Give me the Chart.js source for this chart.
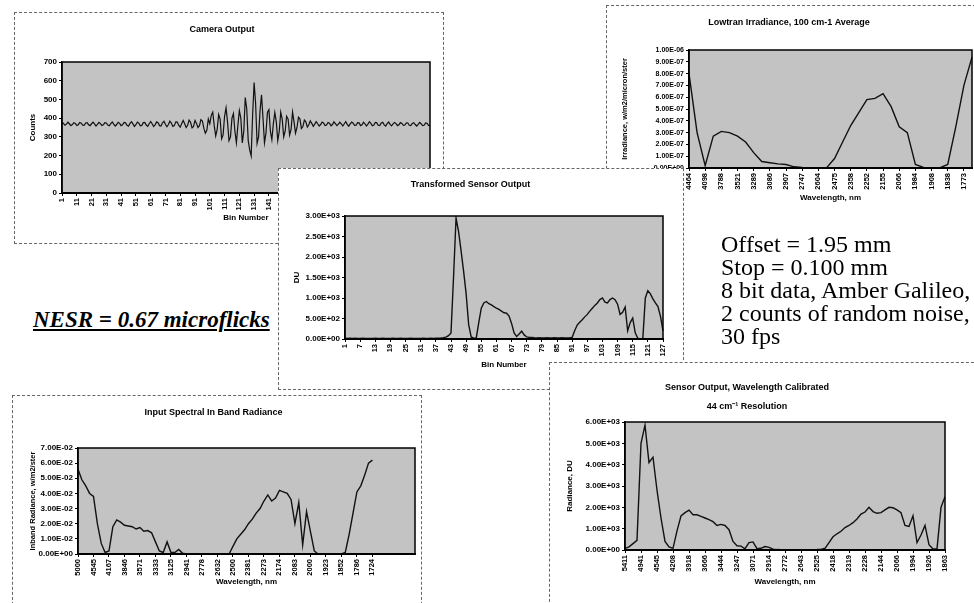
<!DOCTYPE html>
<html lang="en">
<head>
<meta charset="UTF-8">
<title>Interferometer sensor results</title>
<script src="https://cdn.jsdelivr.net/npm/chart.js"></script>
<style>
    body { margin: 0; background: #fff; width: 974px; height: 603px; overflow: hidden; position: relative; }
    .panel { position: absolute; background: #fff; outline: 1px dashed #666; outline-offset: -1px; }
    .panel canvas { position: absolute; left: 0; top: 0; }
    .note { position: absolute; color: #000; font-family: 'Liberation Serif', 'Times New Roman', serif; white-space: nowrap; }
</style>
</head>
<body>

<div class="panel" style="left:14px; top:12px; width:430px; height:232px;"><canvas id="camChart" width="430" height="232"></canvas></div>
<div class="panel" style="left:606px; top:5px; width:380px; height:365px;"><canvas id="lowChart" width="380" height="365"></canvas></div>
<div class="panel" style="left:278px; top:168px; width:406px; height:222px;"><canvas id="trnChart" width="406" height="222"></canvas></div>
<div class="panel" style="left:12px; top:395px; width:410px; height:215px;"><canvas id="inbChart" width="410" height="215"></canvas></div>
<div class="panel" style="left:549px; top:362px; width:440px; height:250px;"><canvas id="senChart" width="440" height="250"></canvas></div>

<div class="note" style="left:33px; top:306px; font-size:23px; line-height:27px; font-weight:bold; font-style:italic; text-decoration:underline;">NESR = 0.67 microflicks</div>
<div class="note" style="left:721px; top:233px; font-size:24px; line-height:23px;">Offset = 1.95 mm<br>Stop = 0.100 mm<br>8 bit data, Amber Galileo,<br>2 counts of random noise,<br>30 fps</div>

<script>
    //data - camera output, counts per bin
    const camValues = [
        378, 372, 362, 368, 378, 370, 360, 366, 376, 372,
        361, 365, 377, 373, 363, 362, 374, 376, 365, 360,
        370, 379, 369, 358, 367, 377, 371, 361, 364, 376,
        374, 363, 359, 371, 380, 368, 358, 366, 378, 372,
        360, 364, 377, 375, 362, 357, 372, 381, 369, 356,
        365, 379, 373, 359, 361, 376, 377, 363, 356, 370,
        382, 370, 355, 364, 380, 376, 360, 358, 375, 383,
        366, 354, 366, 384, 374, 356, 360, 380, 379, 361,
        352, 371, 388, 370, 350, 362, 389, 378, 348, 356,
        388, 372, 350, 360, 392, 385, 345, 320, 335, 395,
        370, 415, 432, 360, 305, 340, 420, 395, 290, 310,
        410, 455, 380, 280, 300, 400, 425, 330, 268, 360,
        440, 400, 268, 330, 510, 450, 280, 230, 198, 420,
        590, 480, 265, 300, 440, 525, 400, 268, 320, 430,
        445, 330, 285, 370, 430, 380, 280, 330, 432, 395,
        300, 330, 410, 395, 310, 340, 432, 380, 320, 350,
        405, 395, 345, 355, 390, 380, 352, 365, 385, 372,
        356, 368, 381, 370, 358, 366, 379, 374, 360, 363,
        377, 373, 359, 366, 380, 371, 360, 368, 378, 369,
        358, 370, 381, 367, 357, 369, 379, 373, 361, 362,
        376, 375, 360, 364, 378, 370, 358, 368, 381, 372,
        359, 363, 377, 375, 362, 360, 374, 378, 364, 358,
        371, 379, 367, 359, 369, 377, 371, 360, 365, 376,
        372, 361, 363, 375, 374, 362, 360, 372, 376, 366,
        358, 367, 377, 370, 360, 362, 374, 373, 361, 360
    ];
    const camBins = camValues.map((v, i) => i + 1);

    //data - lowtran irradiance, 100 cm-1 steps
    const lowValues = [
        8.0e-7, 3.0e-7, 0.2e-7, 2.7e-7, 3.1e-7, 3.0e-7, 2.7e-7, 2.2e-7, 1.3e-7, 0.55e-7,
        0.45e-7, 0.35e-7, 0.3e-7, 0.1e-7, 0.05e-7, 0.02e-7, 0.01e-7, 0.01e-7, 0.8e-7, 2.2e-7,
        3.6e-7, 4.7e-7, 5.8e-7, 5.9e-7, 6.3e-7, 5.2e-7, 3.5e-7, 3.0e-7, 0.3e-7, 0.05e-7,
        0.01e-7, 0.01e-7, 0.3e-7, 3.5e-7, 7.0e-7, 9.4e-7
    ];
    const lowTicks = ['4464', '4098', '3788', '3521', '3289', '3086', '2907', '2747', '2604',
        '2475', '2358', '2252', '2155', '2066', '1984', '1908', '1838', '1773'];

    //data - transformed sensor output, DU per bin
    const trnValues = [
        20, 15, 18, 12, 20, 16, 14, 18, 15, 12,
        16, 14, 18, 12, 15, 17, 13, 16, 14, 18,
        12, 15, 17, 14, 16, 13, 18, 15, 12, 16,
        14, 17, 13, 16, 18, 15, 20, 22, 25, 30,
        45, 80, 150, 1500, 2950, 2620, 2150, 1650, 1100, 350,
        50, 20, 25, 400, 750, 880, 915, 860, 830, 790,
        750, 720, 680, 640, 630, 560, 380, 150, 60, 120,
        190, 100, 50, 40, 35, 30, 28, 30, 25, 28,
        30, 25, 28, 30, 26, 28, 30, 25, 28, 30,
        40, 200, 340, 410, 470, 540, 600, 680, 750, 820,
        880, 960, 1000, 900, 880, 960, 1000, 960, 850, 600,
        650, 780, 200, 400, 510, 150, 20, 0, 10, 1000,
        1180, 1100, 980, 880, 790, 550, 200
    ];
    const trnBins = trnValues.map((v, i) => i + 1);

    //data - input spectral in band radiance (empty slots after the last wavelength)
    const inbValues = [
        0.056, 0.049, 0.045, 0.040, 0.038, 0.020, 0.007, 0.001, 0.002, 0.018,
        0.0225, 0.021, 0.019, 0.0185, 0.018, 0.0165, 0.0175, 0.015, 0.0155, 0.014,
        0.008, 0.002, 0.001, 0.008, 0.001, 0.001, 0.003, 0.0005, 0, 0,
        0, 0, 0, 0, 0, 0, 0, 0, 0, 0,
        0.005, 0.010, 0.013, 0.016, 0.020, 0.023, 0.027, 0.030, 0.035, 0.039,
        0.035, 0.037, 0.042, 0.041, 0.040, 0.036, 0.020, 0.034, 0.006, 0.028,
        0.015, 0.002, 0, 0, 0, 0, 0, 0, 0, 0.001,
        0.013, 0.027, 0.041, 0.045, 0.052, 0.060, 0.062,
        null, null, null, null, null, null, null, null, null, null, null
    ];
    const inbTicks = ['5000', '4545', '4167', '3846', '3571', '3333', '3125', '2941', '2778', '2632',
        '2500', '2381', '2273', '2174', '2083', '2000', '1923', '1852', '1786', '1724'];

    //data - sensor output, wavelength calibrated, 44 cm-1 steps
    const senValues = [
        80, 150, 300, 450, 5000, 5850, 4100, 4350, 2800, 1500,
        400, 150, 80, 900, 1600, 1750, 1870, 1650, 1650, 1580,
        1500, 1420, 1330, 1150, 1200, 1150, 950, 400, 200, 180,
        60, 350, 380, 60, 80, 160, 120, 40, 20, 15,
        10, 10, 10, 10, 10, 10, 10, 15, 20, 30,
        80, 350, 620, 760, 880, 1050, 1150, 1280, 1450, 1680,
        1780, 2000, 1800, 1720, 1750, 1880, 2000, 1980, 1880, 1750,
        1150, 1100, 1600, 350, 700, 1150, 250, 50, 50, 2000,
        2500
    ];
    const senTicks = ['5411', '4941', '4545', '4208', '3918', '3666', '3444', '3247', '3071', '2914',
        '2772', '2643', '2525', '2418', '2319', '2228', '2144', '2066', '1994', '1926', '1863'];

    Chart.defaults.font.family = "'Liberation Sans', Arial, sans-serif";
    Chart.defaults.color = '#000';

    // 3.00E+03 style, like the spreadsheet
    function sci(v) {
        if (v === 0) return '0.00E+00';
        const parts = v.toExponential(2).split('e');
        const n = Number(parts[1]);
        return parts[0] + 'E' + (n < 0 ? '-' : '+') + String(Math.abs(n)).padStart(2, '0');
    }

    // gray plot area with a black frame
    const plotFrame = {
        id: 'plotFrame',
        beforeDraw(chart) {
            const a = chart.chartArea, ctx = chart.ctx;
            ctx.save();
            ctx.fillStyle = '#c3c3c3';
            ctx.fillRect(a.left, a.top, a.right - a.left, a.bottom - a.top);
            ctx.restore();
        },
        afterDraw(chart) {
            const a = chart.chartArea, ctx = chart.ctx;
            ctx.save();
            ctx.strokeStyle = '#000';
            ctx.lineWidth = 1.5;
            ctx.strokeRect(a.left, a.top, a.right - a.left, a.bottom - a.top);
            ctx.restore();
        }
    };

    //config
    function makeConfig(o) {
        return {
            type: 'line',
            data: {
                labels: o.labels,
                datasets: [{
                    data: o.values,
                    borderColor: '#111',
                    borderWidth: o.lineWidth || 1.4,
                    pointRadius: 0,
                    fill: false,
                    tension: 0
                }]
            },
            options: {
                responsive: false,
                animation: false,
                devicePixelRatio: 1,
                layout: { autoPadding: false, padding: { left: 0, top: 0, right: o.padRight, bottom: 0 } },
                plugins: {
                    legend: { display: false },
                    tooltip: { enabled: false },
                    title: {
                        display: true,
                        text: o.title,
                        color: '#000',
                        font: { size: 9, weight: 'bold', lineHeight: o.titleLH || 1.2 },
                        padding: { top: o.titleTop, bottom: o.titleBottom }
                    }
                },
                scales: {
                    x: {
                        type: 'category',
                        offset: false,
                        border: { display: true, color: '#000', width: 2 },
                        grid: {
                            drawOnChartArea: false,
                            drawTicks: true,
                            tickLength: 3,
                            color: c => (o.tickText(c.index) !== '' ? '#000' : 'rgba(0,0,0,0)')
                        },
                        ticks: {
                            autoSkip: false, minRotation: 90, maxRotation: 90, padding: 2,
                            color: '#000', font: { size: 7.5, weight: 'bold' },
                            callback: (v, i) => o.tickText(i)
                        },
                        title: {
                            display: true, text: o.xTitle, color: '#000',
                            font: { size: 8, weight: 'bold' },
                            padding: { top: 0, bottom: o.xTitleBottom }
                        },
                        afterFit: s => { s.height = o.xHeight; s.paddingLeft = 0; s.paddingRight = 0; }
                    },
                    y: {
                        min: o.yMin, max: o.yMax,
                        border: { display: true, color: '#000', width: 1.5 },
                        grid: { drawOnChartArea: false, drawTicks: true, tickLength: 3, color: '#000' },
                        ticks: {
                            autoSkip: false,
                            stepSize: o.yStep, padding: 2, color: '#000',
                            font: { size: o.yTickSize || 8, weight: 'bold' },
                            callback: o.yFormat
                        },
                        title: {
                            display: true, text: o.yTitle, color: '#000',
                            font: { size: o.yTitleSize || 8, weight: 'bold' },
                            padding: { top: o.yTitleLeft, bottom: 0 }
                        },
                        afterFit: s => { s.width = o.yWidth; s.paddingTop = 0; s.paddingBottom = 0; }
                    }
                }
            },
            plugins: [plotFrame]
        };
    }

    //render
    new Chart(document.getElementById('camChart'), makeConfig({
        labels: camBins, values: camValues, lineWidth: 1.2,
        title: 'Camera Output', titleTop: 12.6, titleBottom: 26.6,
        xTitle: 'Bin Number', xHeight: 51, xTitleBottom: 21.2,
        tickText: i => (i % 10 === 0 && i < camBins.length ? String(camBins[i]) : ''),
        yMin: 0, yMax: 700, yStep: 100, yFormat: v => String(v),
        yTitle: 'Counts', yTitleLeft: 14.2, yWidth: 48, padRight: 14
    }));

    new Chart(document.getElementById('lowChart'), makeConfig({
        labels: lowValues.map((v, i) => i), values: lowValues,
        title: 'Lowtran Irradiance, 100 cm-1 Average', titleTop: 12.6, titleBottom: 21.6,
        xTitle: 'Wavelength, nm', xHeight: 202, xTitleBottom: 167.2,
        tickText: i => (i % 2 === 0 && i / 2 < lowTicks.length ? lowTicks[i / 2] : ''),
        yMin: 0, yMax: 1e-6, yStep: 1e-7, yFormat: v => sci(v), yTickSize: 7,
        yTitle: 'Irradiance, w/m2/micron/ster', yTitleSize: 7.5, yTitleLeft: 14.2, yWidth: 83, padRight: 14
    }));

    new Chart(document.getElementById('trnChart'), makeConfig({
        labels: trnBins, values: trnValues,
        title: 'Transformed Sensor Output', titleTop: 11.6, titleBottom: 25.6,
        xTitle: 'Bin Number', xHeight: 51, xTitleBottom: 20.2,
        tickText: i => (i % 6 === 0 && i < trnBins.length ? String(trnBins[i]) : ''),
        yMin: 0, yMax: 3000, yStep: 500, yFormat: v => sci(v),
        yTitle: 'DU', yTitleLeft: 14.2, yWidth: 67, padRight: 21
    }));

    new Chart(document.getElementById('inbChart'), makeConfig({
        labels: inbValues.map((v, i) => i), values: inbValues,
        title: 'Input Spectral In Band Radiance', titleTop: 12.6, titleBottom: 29.6,
        xTitle: 'Wavelength, nm', xHeight: 56, xTitleBottom: 23.2,
        tickText: i => (i % 4 === 0 && i / 4 < inbTicks.length ? inbTicks[i / 4] : ''),
        yMin: 0, yMax: 0.07, yStep: 0.01, yFormat: v => sci(v),
        yTitle: 'Inband Radiance, w/m2/ster', yTitleSize: 7.5, yTitleLeft: 16.2, yWidth: 66, padRight: 7
    }));

    new Chart(document.getElementById('senChart'), makeConfig({
        labels: senValues.map((v, i) => i), values: senValues,
        title: ['Sensor Output, Wavelength Calibrated', '44 cm\u207B\u00B9 Resolution'],
        titleLH: 19 / 9, titleTop: 16.5, titleBottom: 5.5,
        xTitle: 'Wavelength, nm', xHeight: 62, xTitleBottom: 25.2,
        tickText: i => (i % 4 === 0 && i / 4 < senTicks.length ? senTicks[i / 4] : ''),
        yMin: 0, yMax: 6000, yStep: 1000, yFormat: v => sci(v),
        yTitle: 'Radiance, DU', yTitleLeft: 16.2, yWidth: 76, padRight: 44
    }));
</script>

</body>
</html>
